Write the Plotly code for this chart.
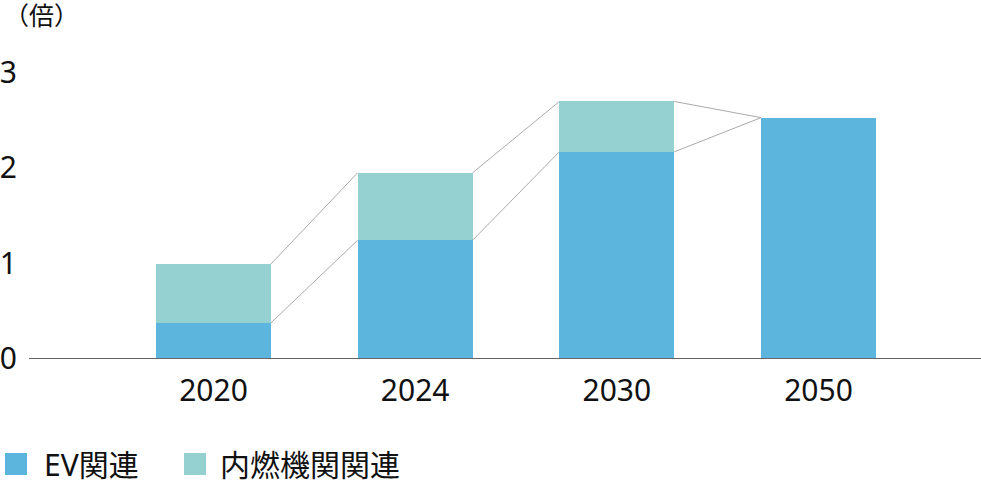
import plotly.graph_objects as go

years = ["2020", "2024", "2030", "2050"]
ev = [0.37, 1.24, 2.17, 2.53]
ice = [0.62, 0.71, 0.53, 0.0]
y_ticks = [0, 1, 2, 3]

EV_COLOR = "#5BB5DC"
ICE_COLOR = "#95D1D1"
FONT = "Noto Sans, Noto Sans CJK JP, sans-serif"
W = 0.57

PL, PT, PW, PH = 29, 50, 952, 308


def px(sx):
    return (sx - PL) / PW


def py(sy):
    return 1 - (sy - PT) / PH


xs = list(range(len(years)))
fig = go.Figure()

# connector lines between bars
tot = [e + i for e, i in zip(ev, ice)]
for k in range(len(years) - 1):
    for a, b in ((ev[k], ev[k + 1]), (tot[k], tot[k + 1])):
        fig.add_trace(go.Scatter(
            x=[xs[k] + W / 2, xs[k + 1] - W / 2], y=[a, b],
            mode="lines", line=dict(color="#aaaaaa", width=1),
            hoverinfo="skip", showlegend=False))

fig.add_trace(go.Bar(x=xs, y=ev, width=W, marker=dict(color=EV_COLOR, line=dict(width=0)),
                     name="EV関連", showlegend=False))
fig.add_trace(go.Bar(x=xs, y=ice, width=W, marker=dict(color=ICE_COLOR, line=dict(width=0)),
                     name="内燃機関関連", showlegend=False))

fig.update_layout(
    barmode="stack",
    width=981, height=482,
    margin=dict(l=PL, r=0, t=PT, b=482 - PT - PH),
    plot_bgcolor="white", paper_bgcolor="white",
    font=dict(family=FONT, size=30, color="#111111"),
    xaxis=dict(range=[-0.915, 3.806], tickvals=xs, ticktext=years,
               showline=True, linecolor="#666666", linewidth=1, automargin=False,
               showgrid=False, zeroline=False, ticks="", ticklabelstandoff=6),
    yaxis=dict(range=[0, 3.242], tickvals=y_ticks, showgrid=False, zeroline=False,
               showline=False, ticks="", ticklabelstandoff=11, automargin=False),
)

# unit label
fig.add_annotation(text="（倍）", xref="paper", yref="paper", x=px(2), y=py(14),
                   xanchor="left", yanchor="middle", showarrow=False,
                   font=dict(family="Noto Sans CJK JP", size=25, color="#111111"))

# custom legend
legend_items = [("EV関連", EV_COLOR, 5, 44), ("内燃機関関連", ICE_COLOR, 184, 220)]
for label, color, sx, tx in legend_items:
    fig.add_shape(type="rect", xref="paper", yref="paper",
                  x0=px(sx), x1=px(sx + 22), y0=py(453), y1=py(475),
                  fillcolor=color, line=dict(width=0))
    fig.add_annotation(text=label, xref="paper", yref="paper",
                       x=px(tx - 2), y=py(464),
                       xanchor="left", yanchor="middle", showarrow=False,
                       font=dict(family=FONT, size=30, color="#111111"))

fig.write_html("out.html", config={"displayModeBar": False},
               post_script="document.body.style.margin='0';")
